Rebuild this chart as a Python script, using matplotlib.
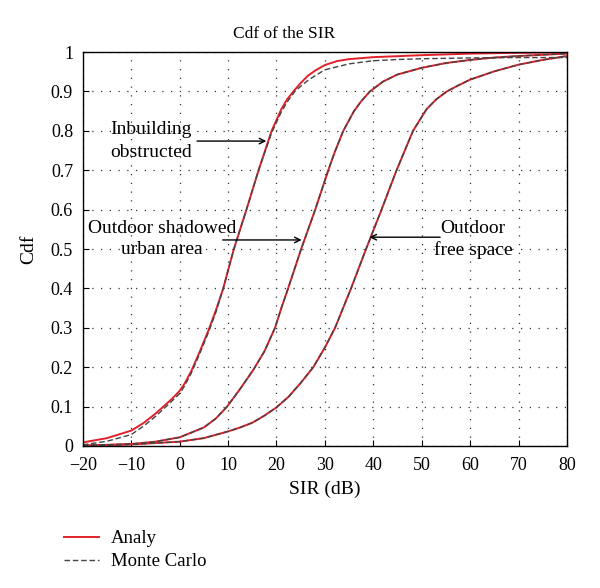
#!/usr/bin/env python3

import matplotlib
matplotlib.use("Agg")
import matplotlib.pyplot as plt

# values (SIR in dB, cdf)
inb_x = [-20, -15, -10, -7.5, -5, -4, -3, -2, -1, 0, 1, 2.4, 4, 6, 7.5, 9, 11.2, 13.8,
         16.3, 19, 21, 22.2, 23.5, 24.9, 26.5, 28, 30, 32.5, 35, 40, 50, 60, 70, 80]
inb_y = [0.009, 0.02, 0.039, 0.058, 0.082, 0.093, 0.104, 0.115, 0.127, 0.14, 0.158,
         0.19, 0.235, 0.295, 0.345, 0.40, 0.50, 0.60, 0.70, 0.80, 0.855, 0.88, 0.90,
         0.92, 0.94, 0.953, 0.967, 0.977, 0.982, 0.987, 0.992, 0.996, 0.998, 0.999]
inb_mc_x = [-20, -15, -10, -7.5, -5, -2.8, 0, 1, 2.4, 4, 6, 7.5, 9, 11.2, 13.8, 16.3,
            19, 21, 22.2, 23.8, 25, 26.5, 28, 30, 35, 40, 45, 50, 60, 70, 80]
inb_mc_y = [0.003, 0.012, 0.029, 0.05, 0.075, 0.10, 0.133, 0.152, 0.185, 0.23, 0.29,
            0.34, 0.40, 0.50, 0.60, 0.70, 0.795, 0.848, 0.873, 0.90, 0.913, 0.928,
            0.94, 0.955, 0.97, 0.978, 0.981, 0.983, 0.985, 0.986, 0.986]

urb_x = [-20, -10, -5, 0, 5, 7.5, 9.8, 12.5, 15.2, 17.5, 19.7, 21, 22.4, 25.1, 28,
         30.7, 32, 33.8, 36, 37.5, 39.3, 42, 45, 50, 55, 60, 65, 70, 80]
urb_y = [0.001, 0.005, 0.011, 0.022, 0.047, 0.07, 0.10, 0.145, 0.193, 0.24, 0.30,
         0.35, 0.40, 0.50, 0.60, 0.70, 0.745, 0.80, 0.85, 0.875, 0.90, 0.925, 0.943,
         0.96, 0.972, 0.98, 0.986, 0.99, 0.996]
urb_mc_x = urb_x
urb_mc_y = urb_y

free_x = [-20, -10, 0, 5, 10, 12.5, 15, 17.5, 20, 22.5, 25, 27.6, 30, 32.1, 35.4, 38.5,
          41.7, 44.8, 46.5, 48.2, 51, 53, 55.2, 57.5, 60, 65, 70, 75, 80]
free_y = [0.001, 0.004, 0.011, 0.02, 0.037, 0.047, 0.059, 0.077, 0.098, 0.125, 0.16,
          0.20, 0.25, 0.30, 0.40, 0.50, 0.60, 0.70, 0.75, 0.80, 0.855, 0.88, 0.90,
          0.915, 0.93, 0.951, 0.968, 0.98, 0.99]
free_mc_x = free_x
free_mc_y = free_y

x_ticks = [-20, -10, 0, 10, 20, 30, 40, 50, 60, 70, 80]
y_ticks = [0, 0.1, 0.2, 0.3, 0.4, 0.5, 0.6, 0.7, 0.8, 0.9, 1]
y_tick_labels = ["0", "0.1", "0.2", "0.3", "0.4", "0.5", "0.6", "0.7", "0.8", "0.9", "1"]

plt.rcParams['font.family'] = ['Liberation Serif', 'DejaVu Serif']

fig = plt.figure(figsize=(6, 5.88), dpi=100)
ax = fig.add_axes([0.138, 0.2415, 0.807, 0.670])

red = '#e3202a'
dark = '#444444'

# analytic curves under, monte carlo dashed on top
ln_an, = ax.plot(inb_x, inb_y, color=red, lw=1.4, label='Analy')
ax.plot(urb_x, urb_y, color=red, lw=1.4)
ax.plot(free_x, free_y, color=red, lw=1.4)
ln_mc, = ax.plot(inb_mc_x, inb_mc_y, color=dark, lw=1.0, ls=(0, (4, 2)), label='Monte Carlo')
ax.plot(urb_mc_x, urb_mc_y, color=dark, lw=1.0, ls=(0, (4, 2)))
ax.plot(free_mc_x, free_mc_y, color=dark, lw=1.0, ls=(0, (4, 2)))

ax.set_xlim(-20, 80)
ax.set_ylim(0, 1)
ax.set_xticks(x_ticks)
ax.set_xticklabels([("\u2212%d" % -t) if t < 0 else str(t) for t in x_ticks])
ax.set_yticks(y_ticks)
ax.set_yticklabels(y_tick_labels)
ax.tick_params(direction='in', length=4, labelsize=13, top=False, right=False)
ax.tick_params(axis='x', pad=8)
ax.tick_params(axis='y', pad=7)
ax.grid(True, color='#333333', lw=0.9, ls=(0, (1, 6)))
for s in ax.spines.values():
    s.set_linewidth(1.0)

ax.set_title('Cdf of the SIR', fontsize=12.5, pad=10, x=0.415)
ax.set_xlabel('SIR (dB)', fontsize=14, labelpad=5)
ax.set_ylabel('Cdf', fontsize=14, labelpad=10)

# annotations
arw = dict(arrowstyle='->', lw=1.0, color='black', shrinkA=0, shrinkB=0)
ax.annotate('', xy=(17.9, 0.774), xytext=(3.6, 0.774), arrowprops=arw)
ax.text(-14.4, 0.775, 'Inbuilding\nobstructed', fontsize=14, ha='left', va='center',
        linespacing=1.45)
ax.annotate('', xy=(25.2, 0.523), xytext=(8.9, 0.523), arrowprops=arw)
ax.text(-3.7, 0.525, 'Outdoor shadowed\nurban area', fontsize=14, ha='center',
        va='center', linespacing=1.3)
ax.annotate('', xy=(39.2, 0.53), xytext=(53.8, 0.53), arrowprops=arw)
ax.text(60.6, 0.525, 'Outdoor\nfree space', fontsize=14, ha='center', va='center',
        linespacing=1.3)

fig.legend([ln_an, ln_mc], ['Analy', 'Monte Carlo'], loc='upper left',
           bbox_to_anchor=(0.078, 0.127), frameon=False, fontsize=13.5,
           handlelength=1.9, handletextpad=0.6, labelspacing=0.3)

fig.savefig('out.png', dpi=100)
